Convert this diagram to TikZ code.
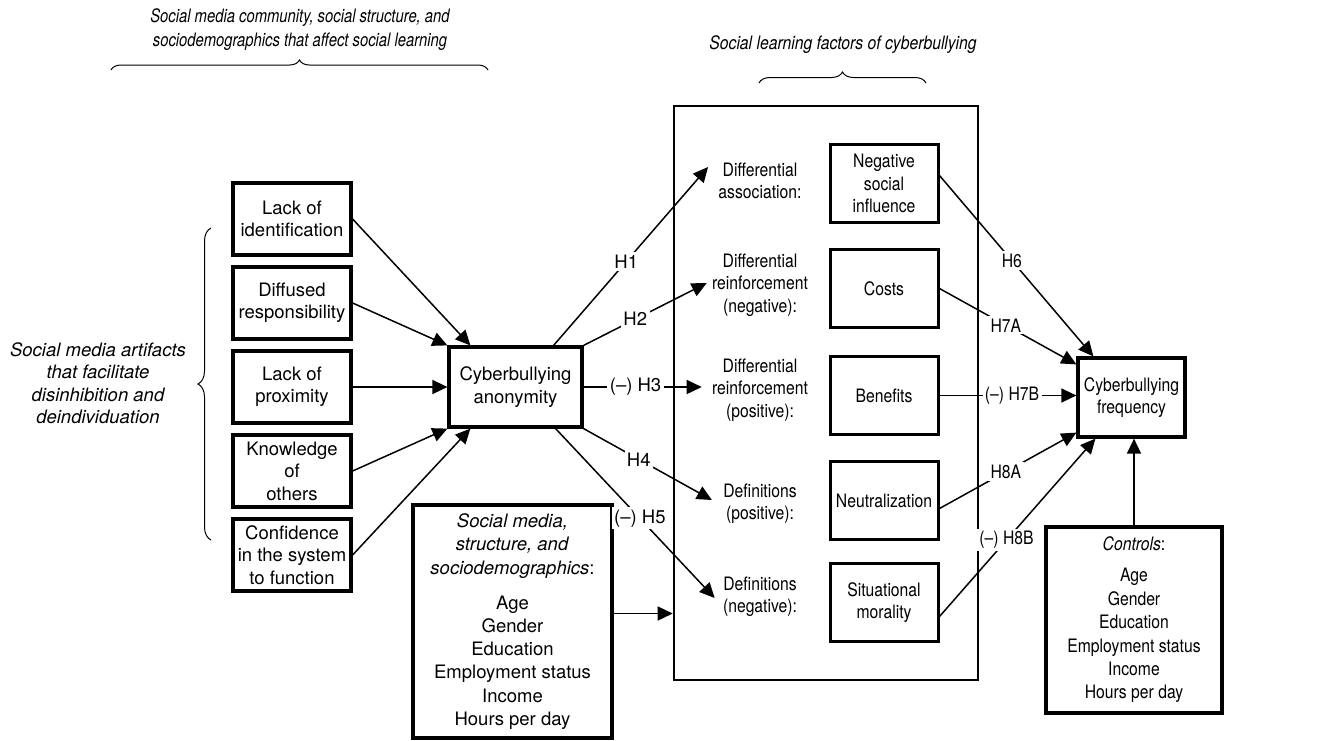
\documentclass[tikz,border=0pt]{standalone}
\usepackage{fontspec}
\setmainfont{TeX Gyre Heros}
\newfontfamily\narrowfont{TeX Gyre Heros}[FakeStretch=0.85]
\newfontfamily\titlefont{TeX Gyre Heros}[FakeStretch=0.8]
\usetikzlibrary{arrows.meta,decorations.pathreplacing,calc}

\tikzset{
  txt/.style={align=center,inner sep=0pt,font=\fontsize{9.25}{11.2}\selectfont},
  ntxt/.style={align=center,inner sep=0pt,font=\narrowfont\fontsize{9.25}{11.2}\selectfont},
}

\begin{document}
\begin{tikzpicture}[x=0.5pt,y=-0.5pt,
    artbox/.style={txt,draw,line width=1.6pt,minimum width=59pt,minimum height=36pt},
    inbox/.style={ntxt,draw,line width=1.5pt,minimum width=54pt,minimum height=39pt},
    arr/.style={-{Triangle[length=7.5pt,width=7pt]},line width=0.75pt},
    hyp/.style={txt,fill=white,inner sep=1.2pt},
    hypr/.style={ntxt,fill=white,inner sep=1.2pt},
    curly/.style={decorate,line width=0.5pt}]
    \useasboundingbox (0,0) rectangle (1318,740);

    % group titles and braces
    \node[txt,font=\titlefont\itshape\fontsize{9.25}{12}\selectfont] (title1) at (300,30) {Social media community, social structure, and\\sociodemographics that affect social learning};
    \draw[curly,decoration={brace,amplitude=5pt}] (111,70) -- (488,70);
    \node[ntxt,font=\narrowfont\itshape\fontsize{9.25}{12}\selectfont] (title2) at (843,45) {Social learning factors of cyberbullying};
    \draw[curly,decoration={brace,amplitude=5.5pt}] (759,83) -- (926,83);
    \node[txt,font=\itshape\fontsize{9.25}{11.25}\selectfont] (artlabel) at (98,383) {Social media artifacts\\that facilitate\\disinhibition and\\deindividuation};
    \draw[curly,decoration={brace,amplitude=6.5pt}] (211,540) -- (211,228);

    % artifacts
    \node[artbox] (art1) at (292,219) {Lack of\\identification};
    \node[artbox] (art2) at (292,303) {Diffused\\responsibility};
    \node[artbox] (art3) at (292,387) {Lack of\\proximity};
    \node[artbox] (art4) at (292,471) {Knowledge\\of\\others};
    \node[artbox] (art5) at (292,555) {Confidence\\in the system\\to function};

    \node[txt,draw,line width=1.6pt,minimum width=66.5pt,minimum height=40pt] (anon) at (515.5,387) {Cyberbullying\\anonymity};

    \draw[arr] (art1.east) -- ([shift={(23,0)}]anon.north west);
    \draw[arr] (art2.east) -- (anon.north west);
    \draw[arr] (art3.east) -- (anon.west);
    \draw[arr] (art4.east) -- (anon.south west);
    \draw[arr] (art5.east) -- ([shift={(23,0)}]anon.south west);

    % sociodemographics
    \node[txt,draw,line width=1.6pt,minimum width=99.5pt,minimum height=116.5pt,font=\fontsize{9.25}{11.6}\selectfont] (socdem) at (512.5,621.5) {\textit{Social media,}\\\textit{structure, and}\\\textit{sociodemographics}:\\[6pt]Age\\Gender\\Education\\Employment status\\Income\\Hours per day};

    % social learning factors
    \node[draw,line width=1.3pt,minimum width=152pt,minimum height=287pt] (learn) at (826,393) {};
    \draw[arr] ($(socdem.east)+(0,-8)$) -- ($(socdem.east -| learn.west)+(0,-8)$);

    \node[ntxt] (dass) at (760,181) {Differential\\association:};
    \node[ntxt] (dneg) at (760,285) {Differential\\reinforcement\\(negative):};
    \node[ntxt] (dpos) at (760,390) {Differential\\reinforcement\\(positive):};
    \node[ntxt] (defpos) at (760,504) {Definitions\\(positive):};
    \node[ntxt] (defneg) at (760,597) {Definitions\\(negative):};

    \node[inbox] (nsi) at (884,183.5) {Negative\\social\\influence};
    \node[inbox] (costs) at (884,288.5) {Costs};
    \node[inbox] (benefits) at (884,395.5) {Benefits};
    \node[inbox] (neutral) at (884,500.5) {Neutralization};
    \node[inbox] (morality) at (884,602.5) {Situational\\morality};

    % hypotheses from anonymity
    \draw[arr] ([shift={(-30,0)}]anon.north east) -- node[hyp,pos=0.47] (h1) {H1} ([shift={(-10,-14)}]dass.west);
    \draw[arr] (anon.north east) -- node[hyp,pos=0.42] (h2) {H2} ([shift={(-5,-2)}]dneg.west);
    \draw[arr] (anon.east) -- node[hyp,pos=0.44] (h3) {(–) H3} ([shift={(-10,-3)}]dpos.west);
    \draw[arr] (anon.south east) -- node[hyp,pos=0.43] (h4) {H4} ([shift={(-11,-4)}]defpos.west);
    \draw[arr] ([shift={(-28,0)}]anon.south east) -- node[hyp,pos=0.53] (h5) {(–) H5} ([shift={(-8,1)}]defneg.west);

    % outcome
    \node[ntxt,draw,line width=1.6pt,minimum width=53.5pt,minimum height=39.5pt] (freq) at (1131.5,397.5) {Cyberbullying\\frequency};
    \node[ntxt,draw,line width=1.6pt,minimum width=88pt,minimum height=93pt,font=\narrowfont\fontsize{9.25}{11.7}\selectfont] (controls) at (1134,620) {\textit{Controls}:\\[3.8pt]Age\\Gender\\Education\\Employment status\\Income\\Hours per day};

    % hypotheses to frequency
    \draw[arr] ([shift={(0,-8)}]nsi.east) -- node[hypr,pos=0.47] (h6) {H6} ([shift={(17,0)}]freq.north west);
    \draw[arr] (costs.east) -- node[hypr,pos=0.485] (h7a) {H7A} ([shift={(0,8)}]freq.north west);
    \draw[arr] (benefits.east) -- node[hypr,pos=0.53] (h7b) {(–) H7B} (benefits.east -| freq.west);
    \draw[arr] ([shift={(0,8)}]neutral.east) -- node[hypr,pos=0.485] (h8a) {H8A} ([shift={(0,-6)}]freq.south west);
    \draw[arr] ([shift={(0,14)}]morality.east) -- node[hypr,pos=0.43] (h8b) {(–) H8B} ([shift={(19,0)}]freq.south west);
    \draw[arr] (controls.north) -- (controls.north |- freq.south);
\end{tikzpicture}
\end{document}
